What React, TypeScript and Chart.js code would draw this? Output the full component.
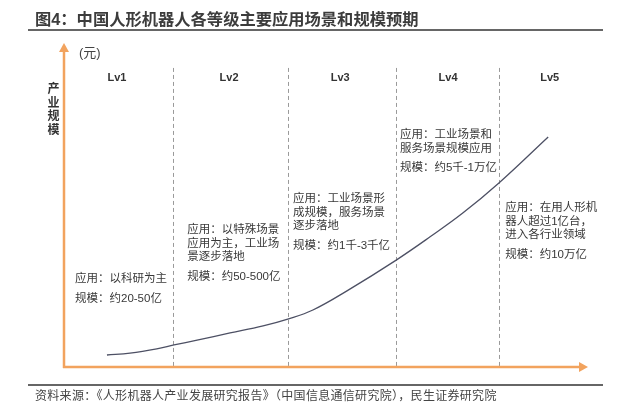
import React, { useEffect, useRef } from "react";
import { Chart, registerables } from "chart.js";

Chart.register(...registerables);

// ---- data ----
const titleText = "图4：中国人形机器人各等级主要应用场景和规模预期";
const sourceText = "资料来源：《人形机器人产业发展研究报告》（中国信息通信研究院），民生证券研究院";
const yUnit = "(元)";
const yTitle = ["产", "业", "规", "模"];

const levels = ["Lv1", "Lv2", "Lv3", "Lv4", "Lv5"];
const levelCenters = [10.1, 31.5, 52.7, 73.3, 92.7];
const levelBounds = [20.8, 42.7, 63.4, 83.0];

// industry-scale curve (x: progress along levels 0-100, y: relative scale 0-100)
const curveX = [8.2, 12.6, 17.7, 21.0, 25.4, 31.7, 38.0, 42.7, 47.5, 54.0, 63.4, 69.8, 76.1, 83.0, 92.4];
const curveY = [3.7, 4.3, 5.6, 6.8, 8.3, 10.5, 12.7, 14.8, 17.6, 23.5, 33.0, 40.1, 47.5, 56.8, 71.0];

const applications = [
  ["应用：以科研为主"],
  ["应用：以特殊场景", "应用为主，工业场", "景逐步落地"],
  ["应用：工业场景形", "成规模，服务场景", "逐步落地"],
  ["应用：工业场景和", "服务场景规模应用"],
  ["应用：在用人形机", "器人超过1亿台，", "进入各行业领域"],
];
const scaleTexts = ["规模：约20-50亿", "规模：约50-500亿", "规模：约1千-3千亿", "规模：约5千-1万亿", "规模：约10万亿"];

// ---- layout (in scale units) ----
const textX = [2.1, 23.5, 43.7, 64.1, 84.2];
const textTopY = [27.2, 42.3, 51.9, 71.6, 49.1];
const levelLabelY = 89.2;
const dashTopY = 92.3;

const ORANGE = "#f2a35e";
const CJK = '"Liberation Sans", "Noto Sans CJK SC", sans-serif';

const overlayPlugin = {
  id: "overlay",
  beforeDatasetsDraw(chart: any) {
    const { ctx, chartArea, scales } = chart;
    const xs = scales.x;
    const ys = scales.y;
    ctx.save();
    ctx.strokeStyle = "#9a9a9a";
    ctx.lineWidth = 1;
    ctx.setLineDash([4, 3]);
    levelBounds.forEach((b) => {
      const px = Math.round(xs.getPixelForValue(b)) + 0.5;
      ctx.beginPath();
      ctx.moveTo(px, ys.getPixelForValue(dashTopY));
      ctx.lineTo(px, chartArea.bottom);
      ctx.stroke();
    });
    ctx.restore();
  },
  afterDatasetsDraw(chart: any) {
    const { ctx, chartArea, scales } = chart;
    const xs = scales.x;
    const ys = scales.y;
    ctx.save();
    // axes
    ctx.strokeStyle = ORANGE;
    ctx.fillStyle = ORANGE;
    ctx.lineWidth = 2.5;
    const x0 = chartArea.left;
    const y0 = chartArea.bottom;
    ctx.beginPath();
    ctx.moveTo(x0, y0 + 1);
    ctx.lineTo(x0, chartArea.top + 7);
    ctx.stroke();
    ctx.beginPath();
    ctx.moveTo(x0, chartArea.top);
    ctx.lineTo(x0 - 5, chartArea.top + 9);
    ctx.lineTo(x0 + 5, chartArea.top + 9);
    ctx.closePath();
    ctx.fill();
    ctx.beginPath();
    ctx.moveTo(x0 - 1, y0);
    ctx.lineTo(chartArea.right - 7, y0);
    ctx.stroke();
    ctx.beginPath();
    ctx.moveTo(chartArea.right, y0);
    ctx.lineTo(chartArea.right - 9, y0 - 5);
    ctx.lineTo(chartArea.right - 9, y0 + 5);
    ctx.closePath();
    ctx.fill();

    // level labels
    ctx.fillStyle = "#333333";
    ctx.font = 'bold 11px "Liberation Sans", Arial, sans-serif';
    ctx.textAlign = "center";
    ctx.textBaseline = "middle";
    levels.forEach((l, i) => {
      ctx.fillText(l, xs.getPixelForValue(levelCenters[i]), ys.getPixelForValue(levelLabelY));
    });

    // annotations
    ctx.font = "11.5px " + CJK;
    ctx.textAlign = "left";
    ctx.fillStyle = "#383838";
    applications.forEach((lines, i) => {
      const px = xs.getPixelForValue(textX[i]);
      let py = ys.getPixelForValue(textTopY[i]);
      lines.forEach((t) => {
        ctx.fillText(t, px, py);
        py += 13.5;
      });
      ctx.fillText(scaleTexts[i], px, py - 13.5 + 19.5);
    });
    ctx.restore();
  },
};

export default function App() {
  const ref = useRef<HTMLCanvasElement | null>(null);
  useEffect(() => {
    if (!ref.current) return;
    const chart = new Chart(ref.current, {
      type: "scatter",
      data: {
        datasets: [
          {
            data: curveX.map((x, i) => ({ x, y: curveY[i] })),
            showLine: true,
            borderColor: "#4d5064",
            borderWidth: 1.3,
            pointRadius: 0,
            tension: 0.4,
            fill: false,
          } as any,
        ],
      },
      options: {
        animation: false,
        responsive: false,
        devicePixelRatio: 1,
        layout: { padding: { left: 64, right: 42, top: 43, bottom: 43 } },
        scales: {
          x: { type: "linear", min: 0, max: 100, display: false },
          y: { type: "linear", min: 0, max: 100, display: false },
        },
        plugins: { legend: { display: false }, tooltip: { enabled: false } },
      },
      plugins: [overlayPlugin],
    });
    return () => chart.destroy();
  }, []);

  const font = '"Liberation Sans", "Noto Sans CJK SC", sans-serif';
  return (
    <div style={{ position: "absolute", left: 0, top: 0, width: 630, height: 410, background: "#fff", fontFamily: font }}>
      <canvas ref={ref} width={630} height={410} style={{ position: "absolute", left: 0, top: 0 }} />
      <div style={{ position: "absolute", left: 35, top: 9, fontSize: 16.3, lineHeight: "20px", fontWeight: "bold", color: "#3c3c3c", whiteSpace: "nowrap" }}>
        {titleText}
      </div>
      <div style={{ position: "absolute", left: 28, top: 29, width: 575, height: 2, background: "#666" }} />
      <div style={{ position: "absolute", left: 79, top: 45, fontSize: 13, lineHeight: "16px", color: "#444", whiteSpace: "nowrap" }}>
        {yUnit}
      </div>
      <div style={{ position: "absolute", left: 47, top: 83, width: 13, fontSize: 12, lineHeight: "13.5px", fontWeight: "bold", color: "#333", textAlign: "center" }}>
        {yTitle.map((c, i) => (
          <div key={i}>{c}</div>
        ))}
      </div>
      <div style={{ position: "absolute", left: 28, top: 384, width: 575, height: 1.5, background: "#666" }} />
      <div style={{ position: "absolute", left: 35, top: 389, fontSize: 12, letterSpacing: 0.3, lineHeight: "15px", color: "#444", whiteSpace: "nowrap" }}>
        {sourceText}
      </div>
    </div>
  );
}
